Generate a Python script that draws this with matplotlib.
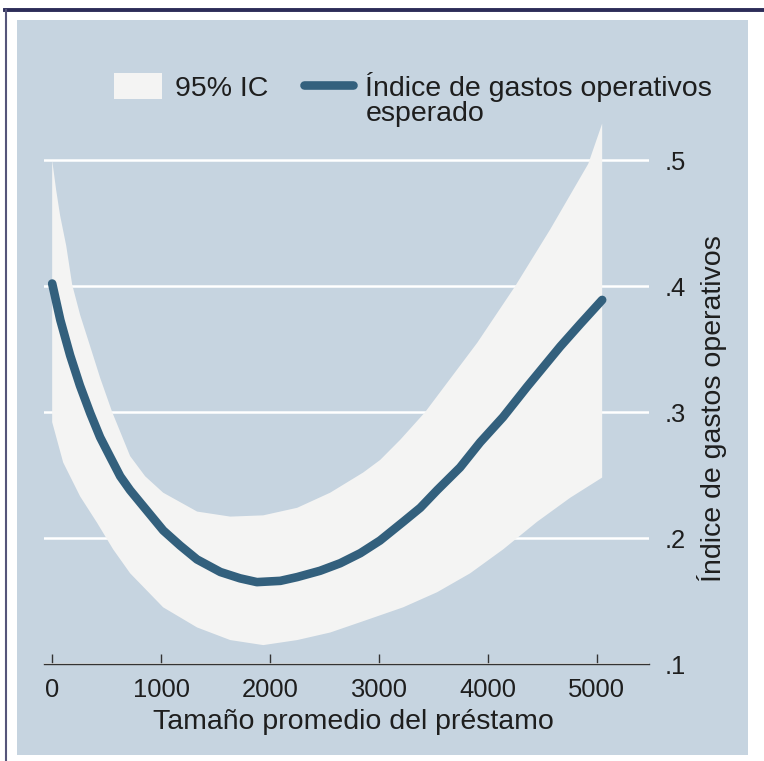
import numpy as np
import matplotlib
matplotlib.use("Agg")
import matplotlib.pyplot as plt
from matplotlib.patches import Rectangle, Patch
from matplotlib.lines import Line2D
from matplotlib.ticker import FuncFormatter

plt.rcParams['font.family'] = ['Liberation Sans', 'DejaVu Sans']

# expected opex ratio
pred_x = [0, 75, 165, 255, 350, 440, 535, 625, 715, 810, 1020, 1175, 1330, 1545,
          1725, 1880, 2095, 2250, 2460, 2645, 2830, 3010, 3225, 3380, 3535, 3745,
          3930, 4140, 4360, 4665, 4850, 5050]
pred_y = [0.402, 0.373, 0.345, 0.321, 0.299, 0.280, 0.264, 0.249, 0.238, 0.228,
          0.206, 0.194, 0.183, 0.173, 0.168, 0.165, 0.166, 0.169, 0.174, 0.180,
          0.188, 0.198, 0.213, 0.224, 0.238, 0.256, 0.276, 0.296, 0.320, 0.352,
          0.370, 0.389]

# 95% CI, upper and lower edges
upper_x = [0, 37, 73, 129, 184, 257, 331, 441, 551, 716, 854, 1019, 1331, 1635,
           1938, 2250, 2553, 2856, 3012, 3196, 3425, 3903, 4252, 4573, 4922, 5050]
upper_y = [0.500, 0.476, 0.456, 0.432, 0.401, 0.377, 0.357, 0.327, 0.300, 0.265,
           0.249, 0.236, 0.221, 0.217, 0.218, 0.224, 0.236, 0.252, 0.262, 0.278,
           0.300, 0.355, 0.400, 0.445, 0.497, 0.529]
lower_x = [0, 101, 257, 413, 560, 716, 1019, 1331, 1635, 1938, 2250, 2553, 2856,
           3223, 3535, 3838, 4141, 4454, 4757, 5050]
lower_y = [0.292, 0.260, 0.233, 0.212, 0.191, 0.172, 0.145, 0.129, 0.119, 0.115,
           0.119, 0.125, 0.134, 0.145, 0.157, 0.172, 0.191, 0.213, 0.232, 0.248]

x_ticks = [0, 1000, 2000, 3000, 4000, 5000]
y_ticks = [0.1, 0.2, 0.3, 0.4, 0.5]

bg = '#c6d4e0'
band_col = '#f4f4f3'
line_col = '#33607d'
txt_col = '#1e1e1e'

fig = plt.figure(figsize=(7.64, 7.61), dpi=100)
fig.patch.set_facecolor('white')

# outer frame: blue panel plus the dark border lines
fig.patches.append(Rectangle((17 / 764, 6 / 761), 731 / 764, 735 / 761,
                             transform=fig.transFigure, fc=bg, ec='none', zorder=-5))
fig.add_artist(Line2D([5 / 764, 1.0], [751 / 761, 751 / 761], transform=fig.transFigure,
                      color='#2c2c58', lw=2.8))
fig.add_artist(Line2D([6 / 764, 6 / 764], [0, 751 / 761], transform=fig.transFigure,
                      color='#55557a', lw=1.5))

ax = fig.add_axes([44 / 764, 97 / 761, 605 / 764, 548 / 761])
ax.set_facecolor('none')
ax.set_xlim(-75, 5480)
ax.set_ylim(0.1, 0.535)

# band polygon: upper edge forward, lower edge back
bx = np.concatenate([upper_x, lower_x[::-1]])
by = np.concatenate([upper_y, lower_y[::-1]])
ax.fill(bx, by, color=band_col, lw=0, zorder=2)
ax.plot(pred_x, pred_y, color=line_col, lw=6.2, solid_capstyle='round',
        solid_joinstyle='round', zorder=3)

for s in ['top', 'left', 'right']:
    ax.spines[s].set_visible(False)
ax.spines['bottom'].set_color('#333333')
ax.spines['bottom'].set_linewidth(1.0)

ax.set_xticks(x_ticks)
ax.tick_params(axis='x', direction='in', length=7, width=1, color='#333333',
               pad=10, labelsize=18.4, labelcolor=txt_col)
ax.set_xlabel('Tamaño promedio del préstamo', fontsize=20.5, color=txt_col)
ax.xaxis.set_label_coords(0.511, -0.083)

ax.yaxis.tick_right()
ax.yaxis.set_label_position('right')
ax.set_yticks(y_ticks)
ax.yaxis.set_major_formatter(FuncFormatter(lambda v, p: f"{v:.1f}".lstrip('0')))
ax.tick_params(axis='y', length=0, pad=11, labelsize=18.4, labelcolor=txt_col)
ax.set_ylabel('Índice de gastos operativos', fontsize=20.5, color=txt_col, rotation=90)
ax.yaxis.set_label_coords(1.08, 0.467)
ax.grid(axis='y', color='white', lw=1.8, zorder=1)
ax.set_axisbelow(True)

# legend: second label wraps onto its own row so the keys sit on the first line
blank = Line2D([], [], color='none')
handles = [Patch(fc=band_col, ec='none'), blank,
           Line2D([], [], color=line_col, lw=6.2, solid_capstyle='round'), blank]
labels = ['95% IC', '', 'Índice de gastos operativos', 'esperado']
leg = ax.legend(handles, labels, ncol=2, frameon=False, fontsize=20.5,
                loc='upper left', bbox_to_anchor=(114 / 764, 1 - 72 / 761),
                bbox_transform=fig.transFigure, handlelength=1.7, handleheight=1.05,
                handletextpad=0.45, columnspacing=1.25, labelspacing=-0.15,
                borderaxespad=0, borderpad=0)
for t in leg.get_texts():
    t.set_color(txt_col)

fig.savefig('out.png', dpi=100, facecolor=fig.get_facecolor())
